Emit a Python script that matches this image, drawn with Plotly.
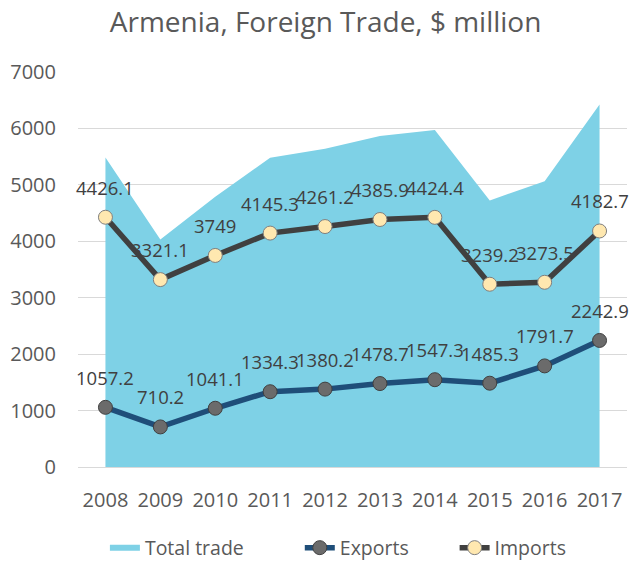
import plotly.graph_objects as go

years = ["2008", "2009", "2010", "2011", "2012", "2013", "2014", "2015", "2016", "2017"]
exports = [1057.2, 710.2, 1041.1, 1334.3, 1380.2, 1478.7, 1547.3, 1485.3, 1791.7, 2242.9]
imports = [4426.1, 3321.1, 3749, 4145.3, 4261.2, 4385.9, 4424.4, 3239.2, 3273.5, 4182.7]
total = [round(e + i, 1) for e, i in zip(exports, imports)]

xs = list(range(len(years)))
font_fam = "Open Sans, Noto Sans, sans-serif"
label_color = "#404040"

fig = go.Figure()
fig.add_trace(go.Scatter(
    x=xs, y=total, name="Total trade", mode="none", fill="tozeroy",
    fillcolor="#7ED1E6", hoverinfo="y", legend="legend"))
fig.add_trace(go.Scatter(
    x=xs, y=exports, name="Exports", mode="lines+markers", legend="legend2",
    line=dict(color="#1F4E79", width=5.5),
    marker=dict(size=14, color="#6B6B6B", line=dict(color="#404040", width=1))))
fig.add_trace(go.Scatter(
    x=xs, y=imports, name="Imports", mode="lines+markers", legend="legend3",
    line=dict(color="#404040", width=5.5),
    marker=dict(size=14, color="#FFE8B0", line=dict(color="#7F7F7F", width=1))))

annotations = []
for series in (exports, imports):
    for x, v in zip(xs, series):
        annotations.append(dict(
            x=x, y=v, xref="x", yref="y", text=str(v), showarrow=False,
            yshift=30, font=dict(size=18.5, color=label_color, family=font_fam)))

leg_common = dict(orientation="h", xanchor="left", y=-0.205, yanchor="middle",
                  font=dict(size=19.5, color="#595959"), bgcolor="rgba(0,0,0,0)")

fig.update_layout(
    width=631, height=562,
    margin=dict(l=78, r=4, t=72, b=95, autoexpand=False),
    paper_bgcolor="white", plot_bgcolor="white",
    title=dict(text="Armenia, Foreign Trade, $ million", x=0.516, xanchor="center",
               y=0.96, yanchor="middle",
               font=dict(size=28, color="#595959", family=font_fam)),
    font=dict(family=font_fam, color="#595959", size=20),
    xaxis=dict(tickmode="array", tickvals=xs, ticktext=years, range=[-0.5, 9.5],
               showgrid=False, showline=True, linecolor="#D9D9D9", linewidth=1,
               ticks="outside", ticklen=15, tickcolor="rgba(0,0,0,0)",
               tickfont=dict(size=20, color="#595959"), zeroline=False),
    yaxis=dict(range=[0, 7000], dtick=1000, showgrid=True, gridcolor="#D9D9D9",
               gridwidth=1, zeroline=False, ticks="outside", ticklen=17,
               tickcolor="rgba(0,0,0,0)",
               tickfont=dict(size=20, color="#595959")),
    legend=dict(x=0.049, **leg_common),
    legend2=dict(x=0.404, **leg_common),
    legend3=dict(x=0.686, **leg_common),
    annotations=annotations,
    showlegend=True,
)

fig.write_html("out.html", post_script="document.body.style.margin='0';",
               config={"displayModeBar": False})
